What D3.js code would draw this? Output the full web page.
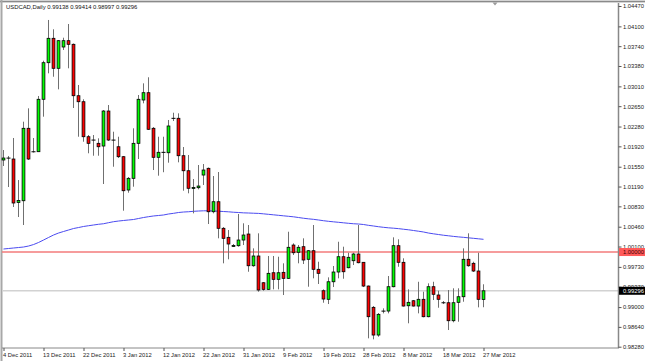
<!DOCTYPE html>
<html><head><meta charset="utf-8">
<script src="https://cdn.jsdelivr.net/npm/d3@7"></script>
<style>
html,body{margin:0;padding:0;background:#fff;}
svg{display:block;font-family:"Liberation Sans",Arial,sans-serif;}
</style></head>
<body><svg id="c" width="645" height="361"></svg>
<script>
const dates = ["2011-12-04","2011-12-05","2011-12-06","2011-12-07","2011-12-08","2011-12-09","2011-12-11","2011-12-12","2011-12-13","2011-12-14","2011-12-15","2011-12-16","2011-12-18","2011-12-19","2011-12-20","2011-12-21","2011-12-22","2011-12-23","2011-12-26","2011-12-27","2011-12-28","2011-12-29","2011-12-30",
"2012-01-02","2012-01-03","2012-01-04","2012-01-05","2012-01-06","2012-01-08","2012-01-09","2012-01-10","2012-01-11","2012-01-12","2012-01-13","2012-01-15","2012-01-16","2012-01-17","2012-01-18","2012-01-19","2012-01-20","2012-01-22","2012-01-23","2012-01-24","2012-01-25","2012-01-26","2012-01-27","2012-01-29","2012-01-30","2012-01-31",
"2012-02-01","2012-02-02","2012-02-03","2012-02-05","2012-02-06","2012-02-07","2012-02-08","2012-02-09","2012-02-10","2012-02-12","2012-02-13","2012-02-14","2012-02-15","2012-02-16","2012-02-17","2012-02-19","2012-02-20","2012-02-21","2012-02-22","2012-02-23","2012-02-24","2012-02-26","2012-02-27","2012-02-28","2012-02-29",
"2012-03-01","2012-03-02","2012-03-04","2012-03-05","2012-03-06","2012-03-07","2012-03-08","2012-03-09","2012-03-11","2012-03-12","2012-03-13","2012-03-14","2012-03-15","2012-03-16","2012-03-18","2012-03-19","2012-03-20","2012-03-21","2012-03-22","2012-03-23","2012-03-25","2012-03-26","2012-03-27"];

const open = [1.01672,1.01708,1.01690,1.00900,1.00932,1.02248,1.01823,1.01823,1.02775,1.03440,
 1.03883,1.03338,1.03725,1.03840,1.03774,1.02840,1.02731,1.02095,1.02035,1.01975,
 1.01926,1.02562,1.02035,1.01913,1.01732,1.01127,1.01339,1.01975,1.02762,1.02895,
 1.02248,1.01721,1.01812,1.01804,1.02430,1.02430,1.01750,1.01477,1.01154,1.01169,
 1.01399,1.01521,1.00732,1.00914,1.00431,1.00267,1.00100,1.00115,1.00218,1.00327,
 0.99751,0.99928,0.99442,0.99322,0.99624,0.99504,0.99631,0.99522,1.00127,0.99995,
 1.00097,0.99868,1.00024,0.99686,0.99297,0.99141,0.99460,0.99637,0.99915,0.99715,
 0.99842,0.99964,0.99813,0.99382,0.98995,0.98492,0.98928,0.98928,0.99370,1.00115,
 0.99813,0.99024,0.99115,0.99019,0.99141,0.98825,0.99370,0.99219,0.99079,0.99079,
 0.98752,0.99086,0.99188,0.99868,0.99795,0.99655,0.99138];

const high = [1.01853,1.01745,1.02072,1.01308,1.02368,1.02611,1.02072,1.02835,1.03476,1.04216,
 1.04047,1.03852,1.03894,1.04143,1.03789,1.03035,1.02775,1.02126,1.02126,1.02066,
 1.02580,1.02671,1.02186,1.02095,1.01745,1.01363,1.02248,1.02853,1.03065,1.03175,
 1.02271,1.02095,1.02095,1.02399,1.02531,1.02520,1.01908,1.01763,1.01327,1.01581,
 1.01599,1.01536,1.01381,1.01454,1.00454,1.00400,1.00146,1.00691,1.00522,1.00491,
 1.00067,1.00340,0.99455,0.99928,0.99928,0.99915,0.99795,1.00369,1.00158,1.00127,
 1.00249,1.00037,1.00491,0.99824,0.99322,0.99540,0.99746,1.00187,1.00097,0.99987,
 0.99987,1.00491,0.99819,0.99391,0.99019,0.98892,0.98977,0.99564,1.00267,1.00231,
 0.99886,0.99322,0.99128,0.99460,0.99279,0.99431,0.99460,0.99297,0.99110,0.99310,
 0.99341,0.99341,1.00067,1.00340,0.99824,0.99987,0.99414];

const low = [1.01563,1.01181,1.00818,1.00636,1.00491,1.01672,1.01808,1.01817,1.02459,1.03247,
 1.03185,1.02956,1.03671,1.03338,1.02617,1.02095,1.02004,1.01794,1.01750,1.01750,
 1.01236,1.02017,1.01550,1.01708,1.00751,1.01078,1.01187,1.01690,1.02702,1.02217,
 1.01490,1.01387,1.01450,1.01623,1.02380,1.01630,1.01114,1.01067,1.00703,1.01139,
 1.01218,1.00509,1.00703,1.00249,0.99795,0.99868,1.00091,1.00097,1.00127,0.99642,
 0.99733,0.99279,0.99297,0.99310,0.99322,0.99322,0.99219,0.99510,0.99946,0.99795,
 0.99782,0.99370,0.99522,0.99419,0.99079,0.99055,0.99364,0.99522,0.99515,0.99704,
 0.99764,0.99795,0.99364,0.98432,0.98414,0.98461,0.98886,0.98886,0.99359,0.99733,
 0.99010,0.98705,0.99010,0.98886,0.98814,0.98814,0.99128,0.98988,0.99055,0.98583,
 0.98723,0.98734,0.99097,0.99733,0.99637,0.98995,0.98997];

const close = [1.01708,1.01705,1.00891,1.00936,1.02248,1.01690,1.01820,1.02775,1.03440,1.03883,
 1.03338,1.03840,1.03840,1.03774,1.02840,1.02731,1.02095,1.01975,1.02033,1.01913,
 1.02562,1.02035,1.02032,1.01732,1.01114,1.01339,1.01975,1.02775,1.02895,1.02230,
 1.01721,1.01812,1.01810,1.02290,1.02428,1.01750,1.01477,1.01158,1.01172,1.01199,
 1.01490,1.00732,1.00914,1.00431,1.00249,1.00146,1.00118,1.00218,1.00309,0.99751,
 0.99928,0.99310,0.99322,0.99613,0.99504,0.99624,0.99522,1.00086,0.99987,1.00086,
 0.99855,1.00024,0.99686,0.99613,0.99146,0.99460,0.99637,0.99915,0.99642,0.99904,
 0.99964,0.99806,0.99382,0.98825,0.98492,0.98868,0.98925,0.99370,1.00115,0.99813,
 0.99019,0.99086,0.99019,0.99141,0.98825,0.99370,0.99232,0.99141,0.99077,0.98752,
 0.99079,0.99188,0.99868,0.99751,0.99655,0.99141,0.99296];

const ma = [1.00055,1.00064,1.00073,1.00082,1.00091,1.00109,1.00136,1.00173,1.00218,1.00264,
 1.00309,1.00345,1.00373,1.00400,1.00427,1.00445,1.00464,1.00478,1.00491,1.00504,
 1.00514,1.00533,1.00551,1.00563,1.00573,1.00582,1.00591,1.00609,1.00627,1.00642,
 1.00655,1.00664,1.00673,1.00691,1.00703,1.00718,1.00727,1.00732,1.00740,1.00745,
 1.00749,1.00749,1.00745,1.00742,1.00736,1.00731,1.00723,1.00718,1.00712,1.00709,
 1.00705,1.00702,1.00694,1.00685,1.00676,1.00667,1.00658,1.00649,1.00640,1.00627,
 1.00614,1.00603,1.00594,1.00582,1.00569,1.00558,1.00549,1.00540,1.00531,1.00522,
 1.00514,1.00509,1.00500,1.00485,1.00473,1.00460,1.00449,1.00440,1.00433,1.00425,
 1.00414,1.00404,1.00391,1.00378,1.00364,1.00345,1.00331,1.00318,1.00305,1.00295,
 1.00284,1.00275,1.00267,1.00258,1.00249,1.00240,1.00231];

const yTicks = [1.04470,1.04100,1.03740,1.03380,1.03010,1.02650,1.02280,1.01920,1.01550,1.01190,1.00830,1.00460,1.00100,0.99730,0.99370,0.99000,0.98640,0.98280];
const xTickDates = ["2011-12-04","2011-12-13","2011-12-22","2012-01-03","2012-01-12","2012-01-22","2012-01-31","2012-02-09","2012-02-19","2012-02-28","2012-03-08","2012-03-18","2012-03-27"];
const symbolTitle = "USDCAD,Daily";
const lastBar = [0.99138, 0.99414, 0.98997, 0.99296];
const levelLine = 1.00000;
const lastPrice = 0.99296;

const svg = d3.select("#c");
const W = 645, H = 361;
const plotL = 2, plotR = 618.5, plotT = 3, plotB = 348;

const x = d3.scalePoint().domain(dates).range([3.5, 483.5]);
const y = d3.scaleLinear().domain([0.982564, 1.045064]).range([348, 4]);

// frame
svg.append("rect").attr("x",0).attr("y",0).attr("width",W).attr("height",3).attr("fill","#d4d4d4");
svg.append("line").attr("x1",0).attr("x2",W).attr("y1",1.5).attr("y2",1.5).attr("stroke","#8a8a8a").attr("stroke-width",1);
svg.append("rect").attr("x",0.5).attr("y",0).attr("width",2).attr("height",H).attr("fill","#a8a8a8");
svg.append("path").attr("d","M492.5,2.5 L497.5,2.5 L495,5.5 Z").attr("fill","#9a9a9a");

// horizontal level lines
svg.append("line").attr("x1",plotL).attr("x2",plotR).attr("y1",y(lastPrice)).attr("y2",y(lastPrice))
  .attr("stroke","#d2d2d2").attr("stroke-width",1.5);
svg.append("line").attr("x1",plotL).attr("x2",plotR).attr("y1",y(levelLine)).attr("y2",y(levelLine))
  .attr("stroke","#f37b7b").attr("stroke-width",1.5);

// moving average
svg.append("path").datum(ma)
  .attr("d", d3.line().x((d,i)=>x(dates[i])).y(d=>y(d)))
  .attr("fill","none").attr("stroke","#4b4bf0").attr("stroke-width",1);

// candles
const candles = dates.map((d,i)=>({d, o:open[i], h:high[i], l:low[i], c:close[i]}));
const g = svg.append("g");
g.selectAll("line.wick").data(candles).join("line").attr("class","wick")
  .attr("x1",d=>x(d.d)).attr("x2",d=>x(d.d))
  .attr("y1",d=>y(d.h)).attr("y2",d=>y(d.l))
  .attr("stroke","#707070").attr("stroke-width",1);
candles.forEach(d=>{
  const yo = y(d.o), yc = y(d.c), cx = x(d.d);
  const top = Math.min(yo,yc), bot = Math.max(yo,yc);
  if (bot - top < 0.9) {
    g.append("line").attr("x1",cx-2).attr("x2",cx+2).attr("y1",(yo+yc)/2).attr("y2",(yo+yc)/2)
      .attr("stroke","#000").attr("stroke-width",1);
  } else {
    g.append("rect").attr("x",cx-1.4).attr("width",2.8)
      .attr("y",top).attr("height",bot-top)
      .attr("fill", d.c > d.o ? "#00ff00" : "#ff0000")
      .attr("stroke","#000").attr("stroke-width",0.8);
  }
});

// axes lines
svg.append("line").attr("x1",plotL).attr("x2",plotR+0.5).attr("y1",plotB).attr("y2",plotB).attr("stroke","#888").attr("stroke-width",1);
svg.append("line").attr("x1",plotR).attr("x2",plotR).attr("y1",plotT).attr("y2",plotB).attr("stroke","#888").attr("stroke-width",1.5);

// right axis
const fmt5 = d3.format(".5f");
const ya = svg.append("g").attr("transform",`translate(${plotR},0)`)
  .call(d3.axisRight(y).tickValues(yTicks).tickFormat(fmt5).tickSize(3).tickPadding(1.5));
ya.select(".domain").remove();
ya.selectAll("line").attr("stroke","#555");
ya.selectAll("text").attr("font-size","5.8px").attr("fill","#222").attr("font-family","Liberation Sans, Arial, sans-serif");

// bottom axis
const parse = d3.utcParse("%Y-%m-%d"), fmtD = d3.utcFormat("%-d %b %Y");
const xa = svg.append("g").attr("transform",`translate(0,${plotB})`)
  .call(d3.axisBottom(x).tickValues(xTickDates).tickFormat(d=>fmtD(parse(d))).tickSize(3).tickPadding(2));
xa.select(".domain").remove();
xa.selectAll("line").attr("stroke","#555");
xa.selectAll("text").attr("font-size","5.8px").attr("fill","#222").attr("text-anchor","start").attr("x",-1)
  .attr("font-family","Liberation Sans, Arial, sans-serif");

// price labels
function priceTag(v, bg, fg){
  const yy = y(v);
  svg.append("rect").attr("x",plotR+0.5).attr("y",yy-4).attr("width",26).attr("height",8).attr("fill",bg);
  svg.append("text").attr("x",plotR+4.5).attr("y",yy).attr("dy","0.34em").attr("font-size","5.8px")
    .attr("fill",fg).text(fmt5(v));
}
priceTag(levelLine, "#ff5a5a", "#400000");
priceTag(lastPrice, "#000", "#fff");

// title
svg.append("text").attr("x",6).attr("y",9.3).attr("font-size","5.9px").attr("fill","#111")
  .text(symbolTitle + "  " + lastBar.map(fmt5).join(" "));
</script></body></html>
